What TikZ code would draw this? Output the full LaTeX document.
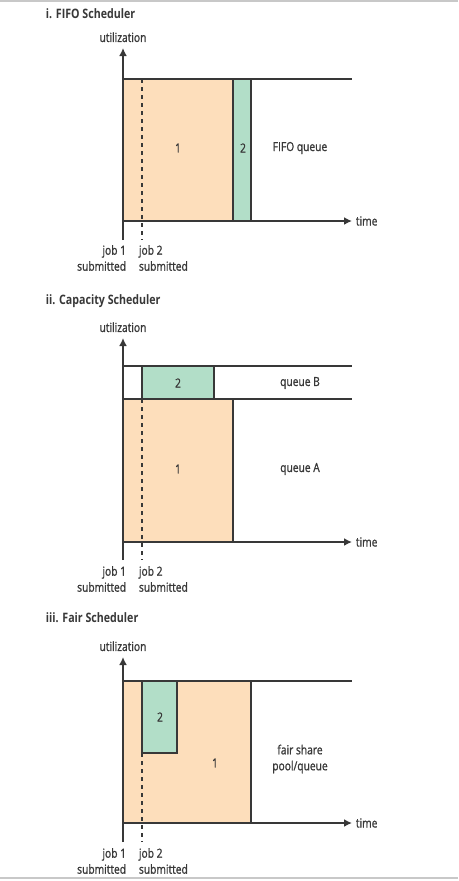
\documentclass[tikz,border=0pt]{standalone}
\usepackage{fontspec}
\setmainfont{Open Sans}[FakeStretch=0.82,UprightFeatures={FakeBold=1.2}]
\usepackage{tikz}
\usetikzlibrary{arrows.meta,positioning}
\definecolor{jobone}{HTML}{FDDEBB}
\definecolor{jobtwo}{HTML}{B2DEC8}
\definecolor{ink}{HTML}{383838}
\definecolor{frame}{HTML}{C8C8C8}

\begin{document}
\begin{tikzpicture}[x=1pt,y=-1pt,>={Latex[length=8pt,width=8pt]},
                    line width=1.9pt,draw=ink,text=ink]
  \tikzstyle{lbl}=[font=\fontsize{12.5}{16}\selectfont,inner sep=1pt,text=ink]
  \tikzstyle{title}=[font=\fontsize{13}{16}\selectfont\bfseries,inner sep=0pt,anchor=west,text=ink]
  \tikzstyle{axis}=[->,draw=ink]
  \tikzstyle{queue}=[draw=ink]
  \tikzstyle{first}=[fill=jobone,draw=ink]
  \tikzstyle{second}=[fill=jobtwo,draw=ink]
  \tikzstyle{submit}=[draw=ink,dash pattern=on 4pt off 4pt]
  \tikzstyle{joblbl}=[lbl,align=right,anchor=east]

  \useasboundingbox (0,0) rectangle (458,881);
  \draw[frame,line width=1.2pt] (0,1) -- (458,1);
  \draw[frame,line width=1.2pt] (0,878) -- (458,878);

  % i. FIFO
  \node[title] (T1) at (45,14) {i. FIFO Scheduler};
  \coordinate (Y1) at (123,48);
  \coordinate (B1) at (123,240);
  \coordinate (X1) at (352,221);
  \draw[first] (123,79) rectangle (233,221);
  \draw[second] (233,79) rectangle (251,221);
  \draw[queue] (123,79) -- (352,79);
  \draw[submit] (142,79) -- (142,240);
  \draw[axis] (B1) -- (Y1);
  \draw[axis] (123,221) -- (X1);
  \node[lbl] (U1) [above=4pt of Y1] {utilization};
  \node[lbl,anchor=west] (X1l) [right=2pt of X1] {time};
  \node[lbl] (J11) at (178,148) {1};
  \node[lbl] (J12) at (243,148) {2};
  \node[lbl] (Q1) at (300,148) {FIFO queue};
  \node[joblbl] (S11) at (128,258) {job 1\\submitted};
  \node[lbl,align=left,anchor=west] (S12) at (137,258) {job 2\\submitted};

  % ii. Capacity
  \node[title] (T2) at (45,301) {ii. Capacity Scheduler};
  \coordinate (Y2) at (123,338);
  \coordinate (B2) at (123,560);
  \coordinate (X2) at (352,542);
  \draw[first] (123,399) rectangle (233,542);
  \draw[second] (142,366) rectangle (214,399);
  \draw[queue] (123,366) -- (352,366);
  \draw[queue] (123,399) -- (352,399);
  \draw[submit] (142,399) -- (142,560);
  \draw[axis] (B2) -- (Y2);
  \draw[axis] (123,542) -- (X2);
  \node[lbl] (U2) [above=4pt of Y2] {utilization};
  \node[lbl,anchor=west] (X2l) [right=2pt of X2] {time};
  \node[lbl] (J22) at (178,383) {2};
  \node[lbl] (QB) at (300,383) {queue B};
  \node[lbl] (J21) at (178,469) {1};
  \node[lbl] (QA) at (300,469) {queue A};
  \node[joblbl] (S21) at (128,579) {job 1\\submitted};
  \node[lbl,align=left,anchor=west] (S22) at (137,579) {job 2\\submitted};

  % iii. Fair
  \node[title] (T3) at (45,618) {iii. Fair Scheduler};
  \coordinate (Y3) at (123,657);
  \coordinate (B3) at (123,842);
  \coordinate (X3) at (352,823);
  \draw[first] (123,681) rectangle (251,823);
  \draw[second] (142,681) rectangle (177,753);
  \draw[queue] (123,681) -- (352,681);
  \draw[submit] (142,753) -- (142,842);
  \draw[axis] (B3) -- (Y3);
  \draw[axis] (123,823) -- (X3);
  \node[lbl] (U3) [above=4pt of Y3] {utilization};
  \node[lbl,anchor=west] (X3l) [right=2pt of X3] {time};
  \node[lbl] (J32) at (160,717) {2};
  \node[lbl] (J31) at (215,763) {1};
  \node[lbl,align=center] (QF) at (300,759) {fair share\\pool/queue};
  \node[joblbl] (S31) at (128,861) {job 1\\submitted};
  \node[lbl,align=left,anchor=west] (S32) at (137,861) {job 2\\submitted};
\end{tikzpicture}
\end{document}
